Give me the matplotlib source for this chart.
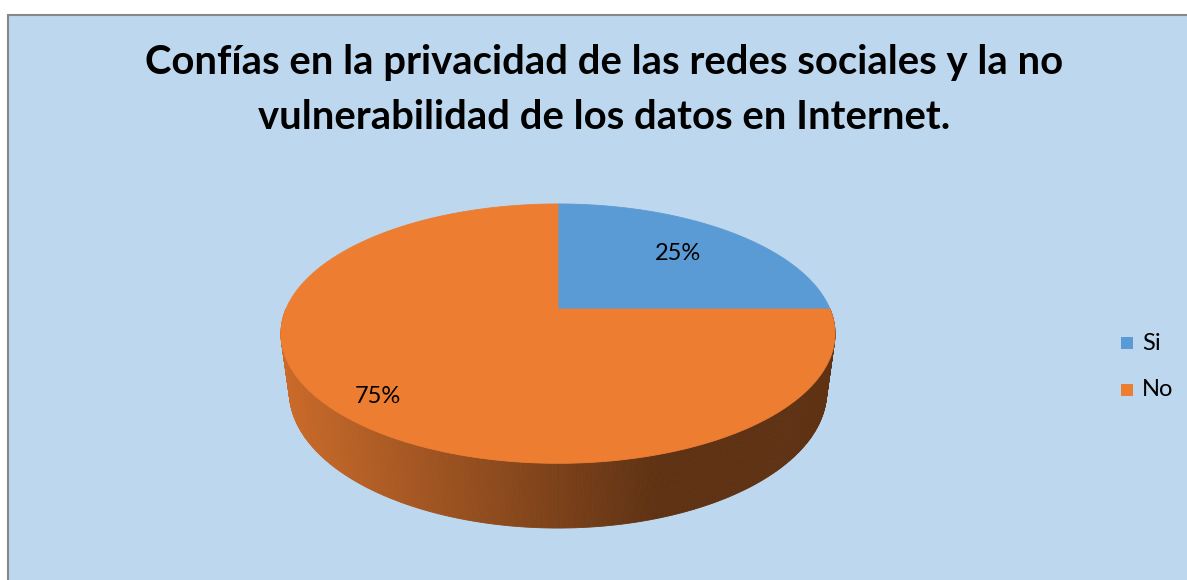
"""3D-style pie: confianza en la privacidad de las redes sociales."""
import matplotlib
matplotlib.use("Agg")
import matplotlib.pyplot as plt
import numpy as np
from matplotlib.patches import Polygon, Rectangle

TITLE = "Confías en la privacidad de las redes sociales y la no\nvulnerabilidad de los datos en Internet."
LABELS = ["Si", "No"]
VALUES = [25, 75]
COLORS = ["#5B9BD5", "#ED7D31"]

# pie geometry in pixels (figure is drawn in pixel coordinates)
CX, CY = 558, 309          # centre of the top face
R, A = 272, 125            # horizontal radius, vertical (depth) radius
K, M = 0.19, 0.03          # perspective strength across the face / through the depth
H = 59                     # thickness
LABEL_R = [0.68, 0.83]


def proj(theta, r=1.0, z=0.0):
    """theta in degrees (0 = right, 90 = far side); z=0 top face, z=1 bottom face."""
    t = np.radians(theta)
    x, yd = r * np.cos(t), r * np.sin(t)
    s = 1.0 / (1.0 + K * yd + M * z)
    return CX + R * x * s, CY + (-A * yd + H * z) * s


def shade(color, f):
    rgb = np.array(matplotlib.colors.to_rgb(color))
    return tuple(np.clip(rgb * f, 0, 1))


fig = plt.figure(figsize=(11.87, 5.8), dpi=100)
ax = fig.add_axes([0, 0, 1, 1])
ax.set_xlim(0, 1187)
ax.set_ylim(580, 0)
ax.axis("off")

ax.add_patch(Rectangle((7.5, 14.5), 1200, 600, facecolor="#BDD7EE",
                       edgecolor="#878787", lw=1.5))

# slice angles, clockwise from 12 o'clock
fracs = np.array(VALUES, float) / sum(VALUES)
ends = 90 - 360 * np.cumsum(fracs)
starts = np.r_[90, ends[:-1]]

# front wall: strips between 180 and 360 degrees, shaded left -> right
n = 360
edges = np.linspace(180, 360, n + 1)
for t1, t2 in zip(edges[:-1], edges[1:]):
    tm = (t1 + t2) / 2
    # which slice owns this angle
    owner = 0
    for i, (a0, a1) in enumerate(zip(starts, ends)):
        if a1 <= tm - 360 <= a0 or a1 <= tm <= a0 or a1 <= tm - 720 <= a0:
            owner = i
    xm, _ = proj(tm)
    f = np.interp(xm, [285, 660], [0.85, 0.40])
    c = shade(COLORS[owner], f)
    pts = [proj(t1), proj(t2), proj(t2, z=1), proj(t1, z=1)]
    ax.add_patch(Polygon(pts, closed=True, facecolor=c, edgecolor=c, lw=0.6))

# top faces
for a0, a1, c in zip(starts, ends, COLORS):
    th = np.linspace(a0, a1, 200)
    xs, ys = proj(th)
    pts = np.column_stack([np.r_[CX, xs], np.r_[CY, ys]])
    ax.add_patch(Polygon(pts, closed=True, facecolor=c, edgecolor=c, lw=0.6))

# data labels
for a0, a1, v, lr in zip(starts, ends, VALUES, LABEL_R):
    lx, ly = proj((a0 + a1) / 2, r=lr)
    ax.text(lx, ly + (5 if v == VALUES[1] else 0), f"{v}%", ha="center", va="center",
            fontsize=17, family="Lato", color="black")

ax.text(604, 90, TITLE, ha="center", va="center", fontsize=28.8,
        fontweight="bold", family="Lato", linespacing=1.62)

# legend
for i, (lab, c) in enumerate(zip(LABELS, COLORS)):
    y = 343 + 47 * i
    ax.add_patch(Rectangle((1121, y - 6), 12, 12, facecolor=c, edgecolor="none"))
    ax.text(1142, y, lab, ha="left", va="center", fontsize=17, family="Lato")

fig.savefig("out.png", dpi=100)
